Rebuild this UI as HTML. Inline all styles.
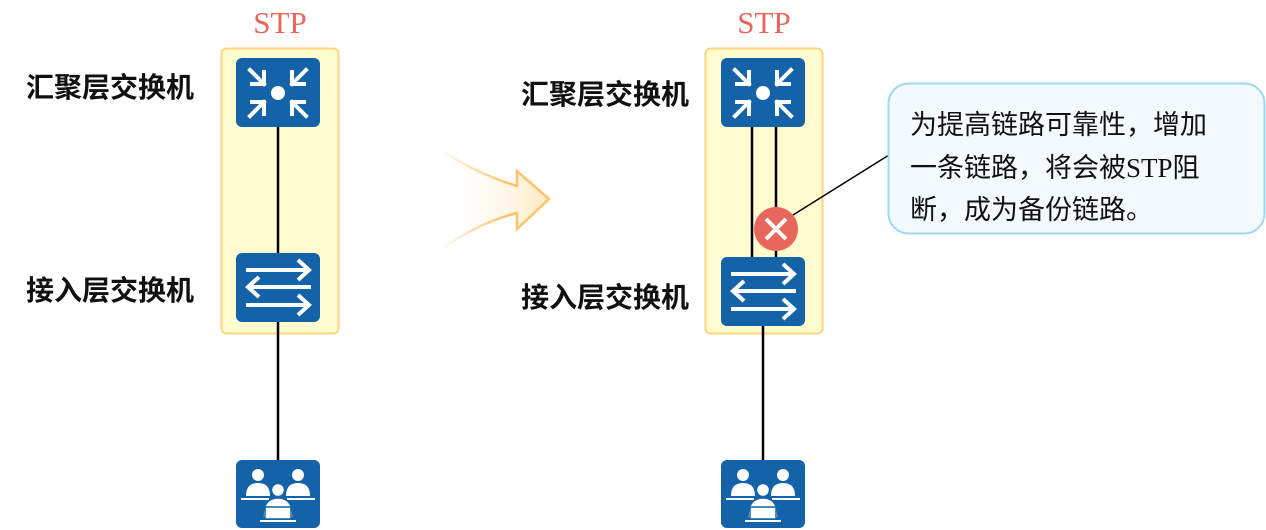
<!DOCTYPE html>
<html><head><meta charset="utf-8"><style>
html,body{margin:0;padding:0;background:#fff;}
svg{display:block;}
</style></head><body>
<svg width="1266" height="530" viewBox="0 0 1266 530" xmlns="http://www.w3.org/2000/svg">
<defs>
<linearGradient id="ag" x1="0" x2="1" y1="0" y2="0">
<stop offset="0" stop-color="#fff" stop-opacity="0"/>
<stop offset="1" stop-color="#fde9bf"/>
</linearGradient>
<linearGradient id="agl" x1="0" x2="1" y1="0" y2="0">
<stop offset="0" stop-color="#fbc46a" stop-opacity="0"/>
<stop offset="0.6" stop-color="#fbc46a"/>
<stop offset="1" stop-color="#fbc46a"/>
</linearGradient>
<g id="router">
<rect x="0" y="0" width="84" height="69" rx="6" fill="#1462a8"/>
<circle cx="42" cy="35" r="7" fill="#fff"/>
<g stroke="#fff" stroke-width="4" fill="none" stroke-linecap="square">
<path d="M14 12 L28 26 M28 14 L28 26 L16 26"/>
<path d="M70 12 L56 26 M56 14 L56 26 L68 26"/>
<path d="M14 58 L28 44 M28 56 L28 44 L16 44"/>
<path d="M70 58 L56 44 M56 56 L56 44 L68 44"/>
</g>
</g>
<g id="switch">
<rect x="0" y="0" width="84" height="69" rx="6" fill="#1462a8"/>
<g stroke="#fff" stroke-width="4" fill="none">
<path d="M10 17 H72 M62 7 L73 17 L62 27"/>
<path d="M75 34 H13 M23 24 L12 34 L23 44"/>
<path d="M10 52 H72 M62 42 L73 52 L62 62"/>
</g>
</g>
<g id="users">
<rect x="0" y="0" width="84" height="68" rx="6" fill="#1462a8"/>
<g fill="#fff">
<circle cx="22" cy="15" r="6"/><path d="M10 36 Q10 23 22 23 Q34 23 34 36 Z"/>
<circle cx="62" cy="15" r="6"/><path d="M50 36 Q50 23 62 23 Q74 23 74 36 Z"/>
<rect x="5" y="38" width="28" height="2"/><rect x="51" y="38" width="28" height="2"/>
<circle cx="42" cy="30" r="6.5" stroke="#1462a8" stroke-width="1.5"/>
<path d="M27 58 Q27 38 42 38 Q57 38 57 58 Z" stroke="#1462a8" stroke-width="1.5"/>
<rect x="29" y="47" width="26" height="12" fill="#fff" stroke="#1462a8" stroke-width="1.5"/>
<rect x="24" y="60" width="36" height="2"/>
</g>
</g>
</defs>

<!-- Left -->
<text x="280" y="33" text-anchor="middle" font-family="Liberation Serif, serif" font-size="31" fill="#e8675c">STP</text>
<rect x="221.5" y="48.5" width="117" height="285" rx="5" fill="#fffdd0" stroke="#fcd580" stroke-width="2"/>
<line x1="278" y1="127" x2="278" y2="253" stroke="#000" stroke-width="2.5"/>
<line x1="278" y1="322" x2="278" y2="460" stroke="#000" stroke-width="2.5"/>
<use href="#router" x="236" y="58"/>
<use href="#switch" x="236" y="253"/>
<use href="#users" x="236" y="460"/>
<text x="26" y="97" font-family="Liberation Sans, 'Noto Sans CJK SC', sans-serif" font-size="28" font-weight="bold" fill="#111">汇聚层交换机</text>
<text x="26" y="300" font-family="Liberation Sans, 'Noto Sans CJK SC', sans-serif" font-size="28" font-weight="bold" fill="#111">接入层交换机</text>

<!-- Arrow -->
<path d="M440 150 Q480 175 517 186 L517 171 L549 199 L517 229 L517 213 Q480 222 440 250 Z" fill="url(#ag)" stroke="url(#agl)" stroke-width="2.5" stroke-linejoin="miter"/>

<!-- Right -->
<text x="764" y="33" text-anchor="middle" font-family="Liberation Serif, serif" font-size="31" fill="#e8675c">STP</text>
<rect x="705.5" y="48.5" width="117" height="285" rx="5" fill="#fffdd0" stroke="#fcd580" stroke-width="2"/>
<line x1="752" y1="127" x2="752" y2="257" stroke="#000" stroke-width="2.5"/>
<line x1="776" y1="127" x2="776" y2="257" stroke="#000" stroke-width="2.5"/>
<line x1="763" y1="326" x2="763" y2="460" stroke="#000" stroke-width="2.5"/>
<use href="#router" x="721" y="58"/>
<use href="#switch" x="721" y="257"/>
<use href="#users" x="721" y="460"/>
<line x1="793" y1="215" x2="889" y2="155" stroke="#000" stroke-width="1.5"/>
<circle cx="776" cy="229" r="22" fill="#e8675c"/>
<path d="M766 219 L786 239 M786 219 L766 239" stroke="#fff" stroke-width="4"/>
<text x="521" y="104" font-family="Liberation Sans, 'Noto Sans CJK SC', sans-serif" font-size="28" font-weight="bold" fill="#111">汇聚层交换机</text>
<text x="521" y="307" font-family="Liberation Sans, 'Noto Sans CJK SC', sans-serif" font-size="28" font-weight="bold" fill="#111">接入层交换机</text>

<!-- Bubble -->
<rect x="888.5" y="83.5" width="376" height="150" rx="20" fill="#f3f9fd" stroke="#9fd8f2" stroke-width="2"/>
<g font-family="Liberation Serif, 'Noto Sans CJK SC', sans-serif" font-size="27" fill="#111">
<text x="910" y="134">为提高链路可靠性，增加</text>
<text x="910" y="177">一条链路，将会被STP阻</text>
<text x="910" y="219">断，成为备份链路。</text>
</g>
</svg>
</body></html>
